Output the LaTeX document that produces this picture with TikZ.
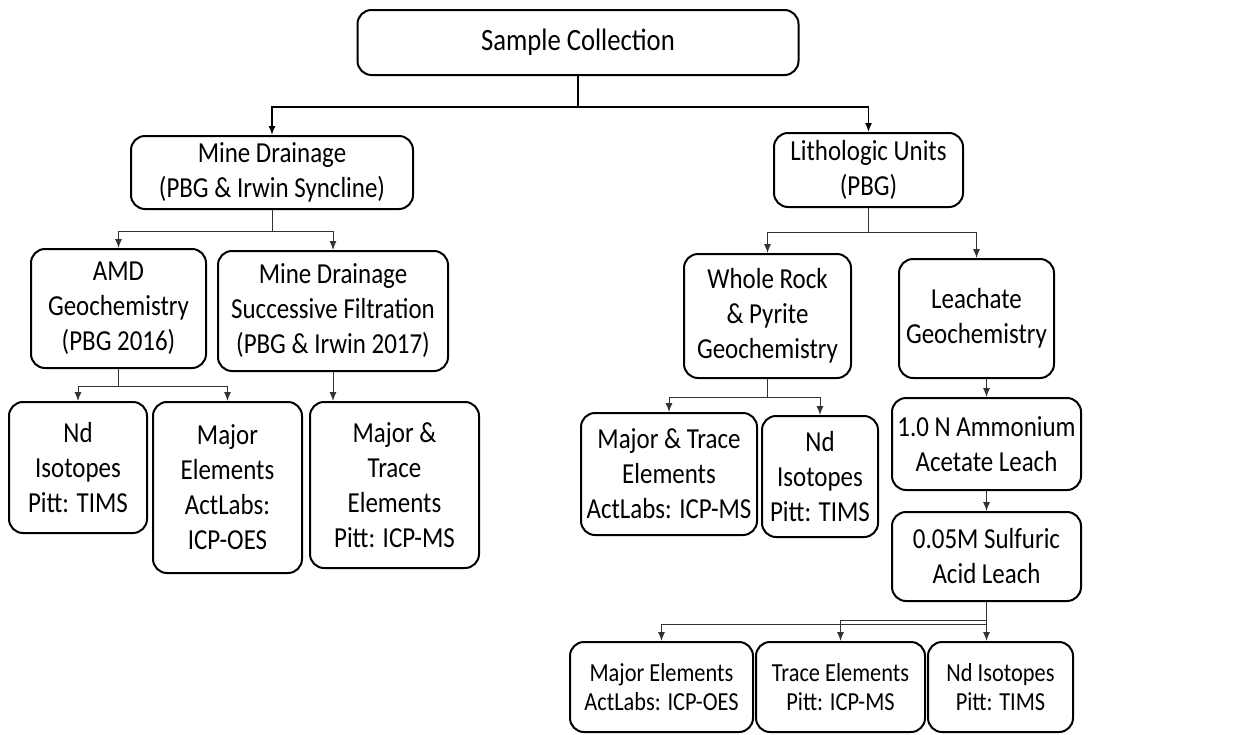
\documentclass[tikz,border=0pt]{standalone}
\usepackage{fontspec}
\setmainfont[FakeStretch=0.86]{Carlito}
\usetikzlibrary{arrows.meta}
\begin{document}
\begin{tikzpicture}[x=0.5pt, y=-0.5pt,
		box/.style={draw, line width=1pt, rounded corners=7pt, align=center, inner sep=0pt, font=\fontsize{14.5}{17.5}\selectfont},
		small/.style={font=\fontsize{13}{14.5}\selectfont},
		arr/.style={-{Latex[length=4.5pt, width=3.5pt]}, line width=0.5pt, black!80}]
	\useasboundingbox (0,0) rectangle (1251,734);
	% top level
	\node[box, minimum width=220.5pt, minimum height=32.5pt, font=\fontsize{15.5}{18}\selectfont] (SC) at (578,42.5) {Sample Collection};
	\node[box, minimum width=141pt, minimum height=36.5pt] (MD) at (272,172.5) {Mine Drainage\\(PBG \& Irwin Syncline)};
	\node[box, minimum width=94.5pt, minimum height=37pt] (LU) at (868.5,170) {Lithologic Units\\(PBG)};
	% mine drainage branch
	\node[box, minimum width=87.5pt, minimum height=59.5pt] (AMD) at (118.5,308.5) {AMD\\Geochemistry\\(PBG 2016)};
	\node[box, minimum width=115pt, minimum height=60pt] (MDSF) at (333,311) {Mine Drainage\\Successive Filtration\\(PBG \& Irwin 2017)};
	\node[box, minimum width=69pt, minimum height=65.5pt] (NdA) at (78,467.5) {Nd\\Isotopes\\Pitt: TIMS};
	\node[box, minimum width=74.5pt, minimum height=85.5pt] (MEA) at (227.5,487.5) {Major\\Elements\\ActLabs:\\ICP-OES};
	\node[box, minimum width=84.5pt, minimum height=83pt] (MTA) at (394.5,485) {Major \&\\Trace\\Elements\\Pitt: ICP-MS};
	% lithologic branch
	\node[box, minimum width=83.5pt, minimum height=62pt] (WR) at (767.5,316) {Whole Rock\\\& Pyrite\\Geochemistry};
	\node[box, minimum width=77.5pt, minimum height=59.5pt] (LC) at (976.5,318.5) {Leachate\\Geochemistry};
	\node[box, minimum width=88pt, minimum height=61pt] (MTB) at (669,474) {Major \& Trace\\Elements\\ActLabs: ICP-MS};
	\node[box, minimum width=58pt, minimum height=60.5pt] (NdB) at (820,476.5) {Nd\\Isotopes\\Pitt: TIMS};
	\node[box, minimum width=94.5pt, minimum height=46pt] (AA) at (986.5,444) {1.0 N Ammonium\\Acetate Leach};
	\node[box, minimum width=94.5pt, minimum height=44.5pt] (SA) at (986.5,556.5) {0.05M Sulfuric\\Acid Leach};
	\node[box, small, minimum width=91.5pt, minimum height=45pt] (MEB) at (661.5,687) {Major Elements\\ActLabs: ICP-OES};
	\node[box, small, minimum width=84.5pt, minimum height=45pt] (TEB) at (840.5,687) {Trace Elements\\Pitt: ICP-MS};
	\node[box, small, minimum width=72.5pt, minimum height=45pt] (NdC) at (1000.5,687) {Nd Isotopes\\Pitt: TIMS};
	% connectors
	\draw[arr, line width=0.75pt, black] (SC.south) -- ++(0,31) -| (MD.north);
	\draw[arr, line width=0.75pt, black] (SC.south) -- ++(0,31) -| (LU.north);
	\draw[arr] (MD.south) -- ++(0,21) -| (AMD.north);
	\draw[arr] (MD.south) -- ++(0,21) -| (MDSF.north);
	\draw[arr] (AMD.south) -- ++(0,17) -| (NdA.north);
	\draw[arr] (AMD.south) -- ++(0,17) -| (MEA.north);
	\draw[arr] (MDSF.south) -- (MDSF.south |- MTA.north);
	\draw[arr] (LU.south) -- ++(0,24) -| (WR.north);
	\draw[arr] (LU.south) -- ++(0,24) -| (LC.north);
	\draw[arr] (WR.south) -- ++(0,18) -| (MTB.north);
	\draw[arr] (WR.south) -- ++(0,18) -| (NdB.north);
	\draw[arr] (AA.north |- LC.south) -- (AA.north);
	\draw[arr] (AA) -- (SA);
	\draw[arr] (SA.south) -- ++(0,18) -| (TEB.north);
	\draw[arr] (SA.south) -- ++(0,22) -| (MEB.north);
	\draw[arr] (SA.south) -- (SA.south |- NdC.north);
\end{tikzpicture}
\end{document}
